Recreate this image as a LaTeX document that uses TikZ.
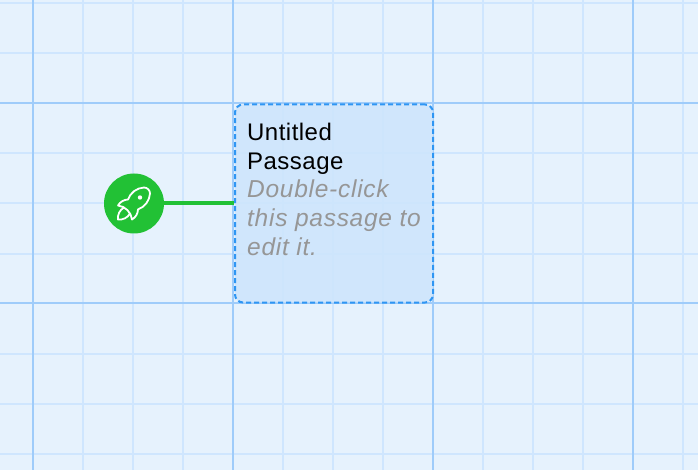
\documentclass[tikz,border=0pt]{standalone}
\usepackage{fontspec}
\setmainfont{Liberation Sans}
\newfontfamily\titlefont[LetterSpace=2]{Liberation Sans}
\newfontfamily\excerptfont[LetterSpace=3]{Liberation Sans}
\usetikzlibrary{svg.path}
\definecolor{canvasbg}{HTML}{E6F2FD}
\definecolor{minorline}{HTML}{CFE6FE}
\definecolor{majorline}{HTML}{9FCCFA}
\definecolor{passagefill}{HTML}{CDE5FC}
\definecolor{passageedge}{HTML}{2F96F3}
\definecolor{startgreen}{HTML}{22C135}
\definecolor{excerptgray}{HTML}{969696}
\tikzset{
  minorgrid/.style={minorline, line width=2pt},
  majorgrid/.style={majorline, line width=2pt},
  passagebox/.style={draw=passageedge, fill=passagefill, fill opacity=0.85, line width=2pt,
    dash pattern=on 5pt off 3pt, rounded corners=8pt, minimum width=198pt, minimum height=198pt, inner sep=0pt},
  startdot/.style={circle, fill=startgreen, minimum size=60pt, inner sep=0pt},
  titletext/.style={font=\titlefont\fontsize{24}{29}\selectfont, text=black, align=left, inner sep=0pt, anchor=north west},
  excerpttext/.style={font=\excerptfont\fontsize{24.5}{29}\selectfont\itshape, text=excerptgray, align=left, inner sep=0pt, anchor=north west},
}
\begin{document}
\begin{tikzpicture}[x=1pt,y=-1pt]
  \useasboundingbox (0,0) rectangle (698,470);
  \fill[canvasbg] (0,0) rectangle (698,470);
  % grid
  \foreach \x in {83,133,183,283,333,383,483,533,583,683}
    \draw[minorgrid] (\x,0) -- (\x,470);
  \foreach \y in {3.5,53.5,153.5,203.5,253.5,353.5,403.5,453.5}
    \draw[minorgrid] (0,\y) -- (698,\y);
  \foreach \x in {33,233,433,633}
    \draw[majorgrid] (\x,0) -- (\x,470);
  \foreach \y in {103,303}
    \draw[majorgrid] (0,\y) -- (698,\y);
  % passage
  \node[passagebox] (passage) at (334,203.5) {};
  \node[titletext] (title) at (247,122.5) {Untitled\\Passage};
  \node[excerpttext] (excerpt) at (247,179.5) {Double-click\\this passage to\\edit it.};
  % start
  \node[startdot] (start) at (134,203.5) {};
  \draw[startgreen, line width=4pt] (start) -- (passage);
  \begin{scope}[shift={(start.center)}, xscale=2, yscale=-2, shift={(-12pt,-12pt)}]
    \draw[white, line width=1.8pt, line join=round, line cap=round] svg {M4 13a8 8 0 0 1 7 7a6 6 0 0 0 3 -5a9 9 0 0 0 6 -8a3 3 0 0 0 -3 -3a9 9 0 0 0 -8 6a6 6 0 0 0 -5 3};
    \draw[white, line width=1.8pt, line join=round, line cap=round] svg {M7 14a6 6 0 0 0 -3 6a6 6 0 0 0 6 -3};
    \fill[white] (15pt,9pt) circle (1.1pt);
  \end{scope}
\end{tikzpicture}
\end{document}
